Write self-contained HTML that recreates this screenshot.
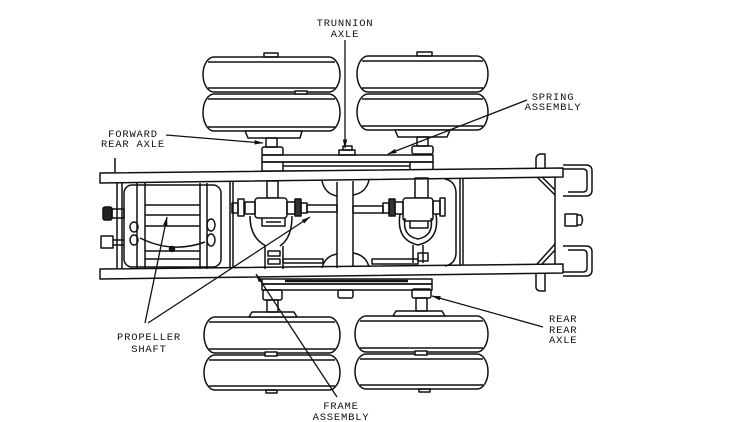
<!DOCTYPE html>
<html><head><meta charset="utf-8"><style>
html,body{margin:0;padding:0;background:#fff;}
svg{display:block}
text{font-family:"Liberation Mono",monospace;font-size:10.5px;letter-spacing:0.8px;fill:#111;stroke:none}
</style></head><body>
<svg width="732" height="422" viewBox="0 0 732 422" xmlns="http://www.w3.org/2000/svg">
<defs><marker id="ar" markerWidth="9" markerHeight="6" refX="8.5" refY="3" orient="auto" markerUnits="userSpaceOnUse"><path d="M0,0.8 L9,3 L0,5.2z" fill="#111"/></marker></defs>
<g fill="none" stroke="#111" stroke-width="1.5" stroke-linejoin="round">

<!-- tires -->
<g fill="#fff">
<rect x="203" y="57" width="137" height="35" rx="11" ry="17.5"/>
<rect x="203" y="94" width="137" height="37" rx="11" ry="18.5"/>
<rect x="357" y="56" width="131" height="36" rx="11" ry="18"/>
<rect x="357" y="94" width="131" height="36" rx="11" ry="18"/>
<rect x="204" y="317" width="136" height="36" rx="11" ry="18"/>
<rect x="204" y="355" width="136" height="35" rx="11" ry="17.5"/>
<rect x="355" y="316" width="133" height="36" rx="11" ry="18"/>
<rect x="355" y="354" width="133" height="35" rx="11" ry="17.5"/>
</g>
<path d="M208,62H335 M208,88H335 M208,99H335 M208,127H335
M362,61H483 M362,88H483 M362,99H483 M362,126H483
M209,322H335 M209,349H335 M209,360H335 M209,386H335
M360,321H483 M360,348H483 M360,359H483 M360,385H483"/>
<!-- tire caps -->
<rect x="264" y="53" width="14" height="4"/>
<rect x="417" y="52" width="15" height="4"/>
<rect x="266" y="390" width="11" height="3"/>
<rect x="419" y="389" width="11" height="3"/>
<rect x="295" y="91" width="12" height="3" fill="#fff"/>
<rect x="265" y="352" width="12" height="4" fill="#fff"/>
<rect x="415" y="351" width="12" height="4" fill="#fff"/>
<!-- hub plates -->
<path d="M245,131H302L300,138H248Z" fill="#fff"/>
<path d="M395,130H450L447,137H398Z" fill="#fff"/>
<path d="M249,317H297L294,312H252Z" fill="#fff"/>
<path d="M393,316H445L442,311H396Z" fill="#fff"/>

<!-- top axle / spring -->
<rect x="266" y="138" width="11" height="9"/>
<rect x="262" y="147" width="21" height="8" rx="2"/>
<rect x="417" y="137" width="11" height="9"/>
<rect x="412" y="146" width="21" height="8" rx="2"/>
<rect x="343" y="146" width="9" height="4"/>
<rect x="339" y="150" width="16" height="5"/>
<rect x="262" y="155" width="171" height="7"/>
<rect x="262" y="162" width="171" height="9"/>
<path d="M283,166H410 M283,162V171 M410,162V171"/>
<!-- bottom axle / spring -->
<rect x="262" y="279" width="170" height="5"/>
<rect x="262" y="284" width="170" height="6"/>
<path d="M285,281H408" stroke-width="2.5"/>
<rect x="263" y="290" width="19" height="10" rx="2"/>
<rect x="267" y="300" width="11" height="12"/>
<rect x="338" y="290" width="15" height="8" rx="2"/>
<rect x="412" y="289" width="19" height="9" rx="2"/>
<rect x="416" y="298" width="11" height="13"/>

<!-- frame rails -->
<polygon points="100,173 563,168 563,177 100,183" fill="#fff"/>
<polygon points="100,269 563,264 563,273 100,279" fill="#fff"/>
<path d="M115,158V172"/>
<!-- left section verticals -->
<path d="M117,183V269 M122,183V269 M137,183V269 M145,183V269 M200,183V269 M207,183V269 M230,182V268 M233,182V268"/>
<rect x="124" y="185" width="97" height="82" rx="8"/>
<!-- cylinder -->
<path d="M145,205H200 M145,215H200 M145,226H200 M145,251H200 M145,259H200"/>
<path d="M140,238 Q172,254 205,242"/>
<circle cx="172" cy="249" r="2.5" fill="#111"/>
<ellipse cx="134" cy="227" rx="4" ry="5"/>
<ellipse cx="134" cy="240" rx="4" ry="5"/>
<ellipse cx="211" cy="225" rx="4" ry="6"/>
<ellipse cx="211" cy="240" rx="4" ry="6"/>
<rect x="103" y="207" width="9" height="13" rx="2" fill="#222"/>
<rect x="112" y="209" width="12" height="9"/>
<rect x="101" y="236" width="12" height="12"/>
<path d="M113,240H124 M113,245H124"/>

<!-- middle crossmember -->
<path d="M337,182V268 M353,181V267"/>
<path d="M322,181 Q325,194 337,196 M369,180 Q366,193 353,195"/>
<path d="M322,268 Q325,256 337,254 M369,267 Q366,255 353,253"/>
<path d="M445,179 Q455,181 456,192 V254 Q455,264 445,266"/>
<path d="M460,178V265 M463,178V265"/>

<!-- left diff -->
<rect x="267" y="181" width="11" height="17"/>
<rect x="255" y="198" width="32" height="20" rx="3" fill="#fff"/>
<rect x="245" y="202" width="10" height="12"/>
<rect x="238" y="199" width="6" height="17"/>
<rect x="232" y="203" width="6" height="10"/>
<rect x="287" y="202" width="8" height="12"/>
<rect x="295" y="199" width="6" height="17" fill="#333"/>
<rect x="301" y="203" width="6" height="10"/>
<rect x="307" y="205" width="30" height="7"/>
<path d="M262,218V226H285V218 M266,222H281"/>
<path d="M250,216 Q250,238 266,246 M292,216 Q292,238 280,246"/>
<path d="M265,246V269 M283,246V269"/>
<rect x="268" y="251" width="12" height="5"/>
<rect x="268" y="259" width="12" height="5"/>
<rect x="283" y="259" width="40" height="4"/>

<!-- right diff -->
<rect x="415" y="178" width="13" height="20"/>
<rect x="403" y="198" width="30" height="23" rx="3" fill="#fff"/>
<rect x="395" y="202" width="8" height="12"/>
<rect x="389" y="199" width="6" height="17" fill="#333"/>
<rect x="383" y="203" width="6" height="10"/>
<rect x="433" y="201" width="7" height="13"/>
<rect x="440" y="198" width="5" height="18"/>
<rect x="353" y="206" width="30" height="7"/>
<path d="M400,214 Q396,240 418,245 Q440,240 436,214 M405,218 Q402,236 418,239 Q434,236 431,218"/>
<path d="M410,221V228H428V221"/>
<path d="M413,245V263 M423,245V263"/>
<rect x="418" y="253" width="10" height="8"/>
<rect x="372" y="259" width="46" height="5"/>

<!-- right end -->
<path d="M555,177V264"/>
<path d="M537,177 L555,195 M542,177 L555,190 M537,264 L555,244 M542,264 L555,250"/>
<path d="M563,165 H586 Q592,165 592,171 V190 Q592,196 586,196 H563"/>
<path d="M563,169 H583 Q587,169 587,173 V188 Q587,192 583,192 H568"/>
<path d="M563,246 H586 Q592,246 592,252 V270 Q592,276 586,276 H563"/>
<path d="M568,250 H583 Q587,250 587,254 V268 Q587,272 583,272 H563"/>
<rect x="565" y="214" width="12" height="12"/>
<path d="M577,215 H581 Q584,220 581,225 H577"/>
<path d="M536,168 L536,158 Q537,154 541,154 H545 V168"/>
<path d="M536,273 V288 Q537,291 541,291 H545 V273"/>

<!-- leaders -->
<g stroke-width="1.3" marker-end="url(#ar)">
<path d="M345,40 L345,148"/>
<path d="M527,100 L388,154"/>
<path d="M166,135 L263,143"/>
<path d="M145,323 L167,217"/>
<path d="M148,323 L310,217"/>
<path d="M337,397 L256,274"/>
<path d="M543,327 L432,296"/>
</g>
</g>

<text x="345" y="26" text-anchor="middle">TRUNNION</text>
<text x="345" y="37" text-anchor="middle">AXLE</text>
<text x="553" y="100" text-anchor="middle">SPRING</text>
<text x="553" y="110" text-anchor="middle">ASSEMBLY</text>
<text x="133" y="137" text-anchor="middle">FORWARD</text>
<text x="133" y="147" text-anchor="middle">REAR AXLE</text>
<text x="149" y="340" text-anchor="middle">PROPELLER</text>
<text x="149" y="352" text-anchor="middle">SHAFT</text>
<text x="341" y="409" text-anchor="middle">FRAME</text>
<text x="341" y="420" text-anchor="middle">ASSEMBLY</text>
<text x="549" y="322">REAR</text>
<text x="549" y="333">REAR</text>
<text x="549" y="343">AXLE</text>
</svg>
</body></html>
